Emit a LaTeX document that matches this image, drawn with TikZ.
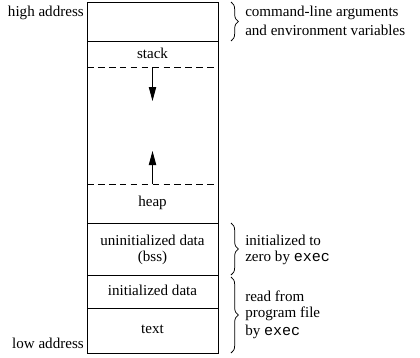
\documentclass[tikz,border=0pt]{standalone}
\usepackage{fontspec}
\setmainfont{Liberation Serif}
\setmonofont{Liberation Mono}
\usetikzlibrary{arrows.meta,decorations.pathreplacing}
\begin{document}
\begin{tikzpicture}[x=0.75pt,y=-0.75pt,
  font=\fontsize{11.3}{13}\selectfont,
  seg/.style={line width=0.65pt},
  dsh/.style={line width=0.65pt,dash pattern=on 5pt off 3.2pt},
  growarrow/.style={line width=0.65pt,-{Triangle[length=10.5pt,width=5.5pt]}},
  brc/.style={line width=0.55pt,decorate,decoration={brace,amplitude=5.5pt}},
  lab/.style={inner sep=0pt,anchor=center},
  note/.style={inner sep=0pt,anchor=west,align=left},
  addr/.style={inner sep=0pt,anchor=east}]
\useasboundingbox (0,0) rectangle (420,357);
% memory column
\draw[seg] (87,2) rectangle (218,353);
\draw[seg] (87,41) -- (218,41);
\draw[seg] (87,223) -- (218,223);
\draw[seg] (87,275) -- (218,275);
\draw[seg] (87,308) -- (218,308);
\draw[dsh] (87,67) -- (218,67);
\draw[dsh] (87,184) -- (218,184);
% arrows
\coordinate (sTop) at (152.5,67);
\coordinate (sEnd) at (152.5,101);
\coordinate (hTop) at (152.5,184);
\coordinate (hEnd) at (152.5,151);
\draw[growarrow] (sTop) -- (sEnd);
\draw[growarrow] (hTop) -- (hEnd);
% labels
\node[addr] (high) at (84,13) {high address};
\node[addr] (low) at (84,343) {low address};
\node[lab] (stack) at (152.5,53) {stack};
\node[lab] (heap) at (152.5,203) {heap};
\node[lab] (bss1) at (152.5,240) {uninitialized data};
\node[lab] (bss2) at (152.5,258) {(bss)};
\node[lab] (idata) at (152.5,290) {initialized data};
\node[lab] (text) at (152.5,329) {text};
% braces
\coordinate (b1a) at (231,2);
\coordinate (b1b) at (231,41);
\coordinate (b2a) at (231,223);
\coordinate (b2b) at (231,275);
\coordinate (b3a) at (231,277);
\coordinate (b3b) at (231,353);
\draw[brc] (b1a) -- (b1b);
\draw[brc] (b2a) -- (b2b);
\draw[brc] (b3a) -- (b3b);
\node[note] (n1a) at (245,13) {command-line arguments};
\node[note] (n1b) at (245,30) {and environment variables};
\node[note] (n2a) at (245,240) {initialized to};
\node[note] (n2b) at (245,258) {zero by \texttt{exec}};
\node[note] (n3a) at (245,296) {read from};
\node[note] (n3b) at (245,314) {program file};
\node[note] (n3c) at (245,332) {by \texttt{exec}};
\end{tikzpicture}
\end{document}
